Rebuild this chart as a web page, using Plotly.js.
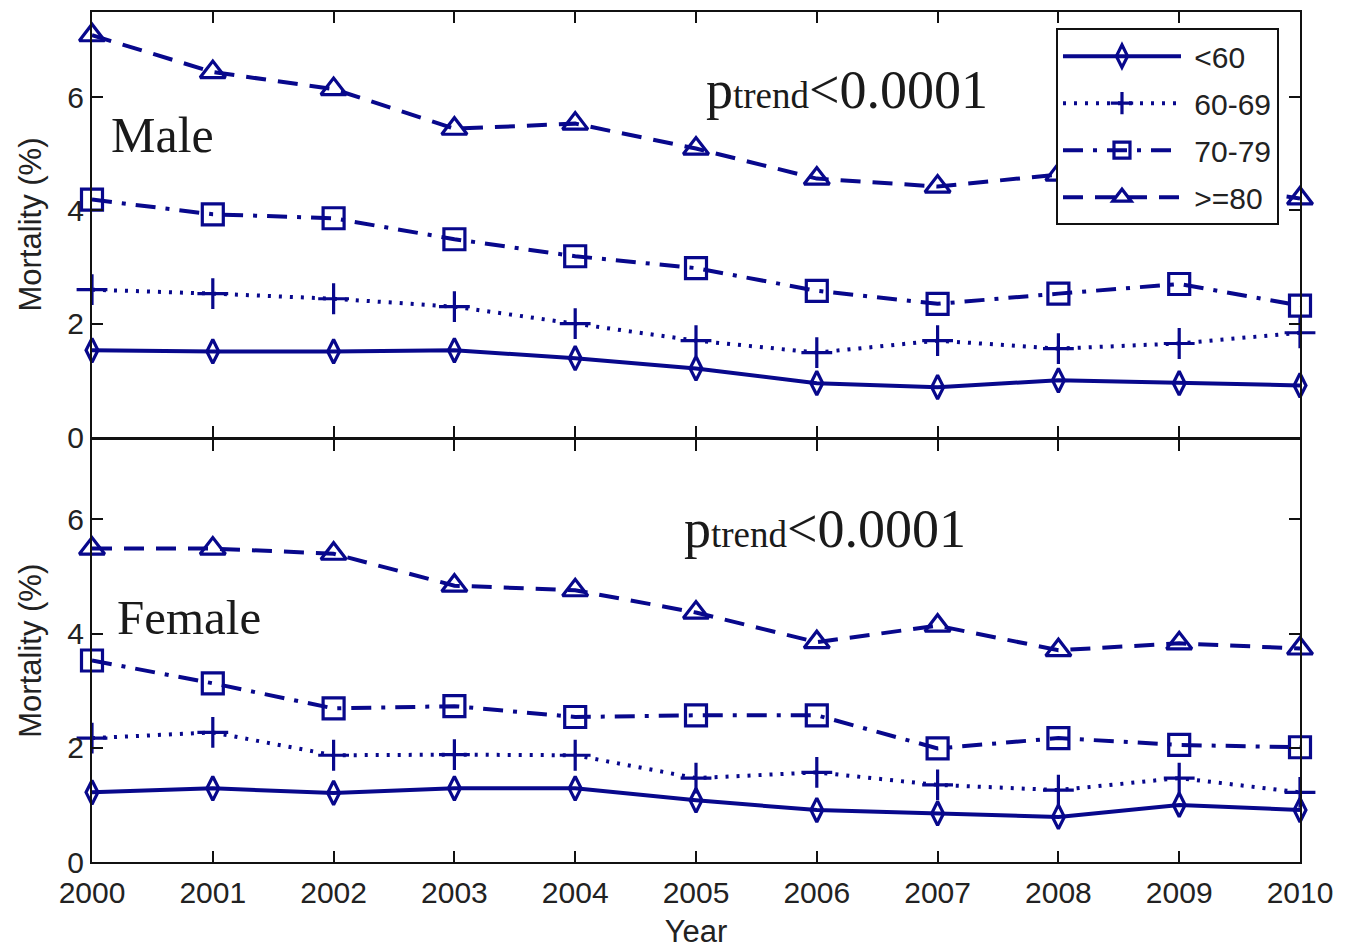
<!DOCTYPE html>
<html>
<head>
<meta charset="utf-8">
<script src="https://cdn.plot.ly/plotly-3.0.1.min.js"></script>
<style>html,body{margin:0;padding:0;background:#fff;}</style>
</head>
<body>
<div id="chart" style="width:1354px;height:951px;"></div>
<script>
const years = [2000, 2001, 2002, 2003, 2004, 2005, 2006, 2007, 2008, 2009, 2010];
const groupNames = ["&lt;60", "60-69", "70-79", "&gt;=80"];

// Male mortality (%)
const maleLt60   = [1.53, 1.51, 1.51, 1.53, 1.39, 1.21, 0.95, 0.88, 1.00, 0.95, 0.91];
const male60to69 = [2.60, 2.53, 2.44, 2.30, 2.00, 1.70, 1.49, 1.70, 1.56, 1.65, 1.84];
const male70to79 = [4.19, 3.93, 3.86, 3.49, 3.19, 2.98, 2.58, 2.35, 2.53, 2.70, 2.32];
const maleGe80   = [7.09, 6.44, 6.14, 5.44, 5.53, 5.09, 4.56, 4.42, 4.63, 4.50, 4.21];

// Female mortality (%)
const femaleLt60   = [1.22, 1.29, 1.21, 1.29, 1.29, 1.08, 0.91, 0.85, 0.79, 1.00, 0.91];
const female60to69 = [2.17, 2.27, 1.87, 1.88, 1.87, 1.47, 1.57, 1.35, 1.26, 1.47, 1.22];
const female70to79 = [3.53, 3.13, 2.69, 2.73, 2.54, 2.57, 2.57, 1.99, 2.17, 2.05, 2.01];
const femaleGe80   = [5.49, 5.49, 5.40, 4.84, 4.76, 4.37, 3.85, 4.14, 3.71, 3.83, 3.74];

const yTicks = [0, 2, 4, 6];
const pTrendText = 'p<span style="font-size:37px">trend</span>&lt;0.0001';

const navy = 'rgb(8,8,140)';
const styles = [
  {dash: 'solid',                    symbol: 'diamond-tall-open', size: 17},
  {dash: '3px,8px',                  symbol: 'cross-thin-open',   size: 22},
  {dash: '20px,10px,4px,10px',       symbol: 'square-open',       size: 21},
  {dash: '20px,12px',                symbol: 'triangle-up-open',  size: 22}
];

function mk(yvals, i, xa, ya, show) {
  return {
    x: years, y: yvals, xaxis: xa, yaxis: ya,
    type: 'scatter', mode: 'lines+markers',
    name: '\u00A0' + groupNames[i], showlegend: show, legendgroup: 'g' + i, cliponaxis: false,
    line: {color: navy, width: 4, dash: styles[i].dash},
    marker: {symbol: styles[i].symbol, size: styles[i].size, color: navy,
             line: {color: navy, width: 3.2}}
  };
}

const maleSeries = [maleLt60, male60to69, male70to79, maleGe80];
const femaleSeries = [femaleLt60, female60to69, female70to79, femaleGe80];
const data = [];
maleSeries.forEach((s, i) => data.push(mk(s, i, 'x', 'y', true)));
femaleSeries.forEach((s, i) => data.push(mk(s, i, 'x2', 'y2', false)));

const sans = 'Liberation Sans, Arial, sans-serif';
const serif = 'Liberation Serif, Times New Roman, serif';
const tickFont = {family: sans, size: 30, color: '#222'};
const axisCommon = {
  showline: true, linecolor: '#111', linewidth: 2, mirror: 'ticks',
  ticks: 'inside', ticklen: 11, tickwidth: 2, tickcolor: '#111',
  showgrid: false, zeroline: false, tickfont: tickFont
};

const layout = {
  width: 1354, height: 951,
  paper_bgcolor: '#ffffff', plot_bgcolor: '#ffffff',
  margin: {l: 92, r: 54, t: 12, b: 89},
  showlegend: true,
  legend: {
    x: 0.798, y: 0.981, xanchor: 'left', yanchor: 'top',
    bgcolor: '#ffffff', bordercolor: '#111', borderwidth: 2,
    font: {family: sans, size: 30, color: '#222'},
    itemwidth: 118, tracegroupgap: 5
  },
  xaxis: Object.assign({}, axisCommon, {
    domain: [0, 1], anchor: 'y', range: [2000, 2010],
    tickvals: years, showticklabels: false
  }),
  yaxis: Object.assign({}, axisCommon, {
    domain: [0.5, 1], anchor: 'x', range: [0, 7.5], tickvals: yTicks,
    title: {text: 'Mortality (%)', font: {family: sans, size: 31, color: '#222'}, standoff: 16}
  }),
  xaxis2: Object.assign({}, axisCommon, {
    domain: [0, 1], anchor: 'y2', range: [2000, 2010],
    tickvals: years, ticktext: years.map(String), ticklabelstandoff: 3,
    title: {text: 'Year', font: {family: sans, size: 31, color: '#222'}, standoff: 12}
  }),
  yaxis2: Object.assign({}, axisCommon, {
    domain: [0, 0.497], anchor: 'x2', range: [0, 7.4], tickvals: yTicks,
    title: {text: 'Mortality (%)', font: {family: sans, size: 31, color: '#222'}, standoff: 16}
  }),
  annotations: [
    {text: 'Male', xref: 'x', yref: 'y', x: 2000.58, y: 5.33, showarrow: false,
     font: {family: serif, size: 50, color: '#1a1a1a'}},
    {text: 'Female', xref: 'x2', yref: 'y2', x: 2000.80, y: 4.28, showarrow: false,
     font: {family: serif, size: 49, color: '#1a1a1a'}},
    {text: pTrendText, xref: 'x', yref: 'y', x: 2005.07, y: 6.12, xanchor: 'left', showarrow: false,
     font: {family: serif, size: 54, color: '#1a1a1a'}},
    {text: pTrendText, xref: 'x2', yref: 'y2', x: 2004.88, y: 5.84, xanchor: 'left', showarrow: false,
     font: {family: serif, size: 54, color: '#1a1a1a'}}
  ]
};

Plotly.newPlot('chart', data, layout, {displayModeBar: false, staticPlot: true});
</script>
</body>
</html>
